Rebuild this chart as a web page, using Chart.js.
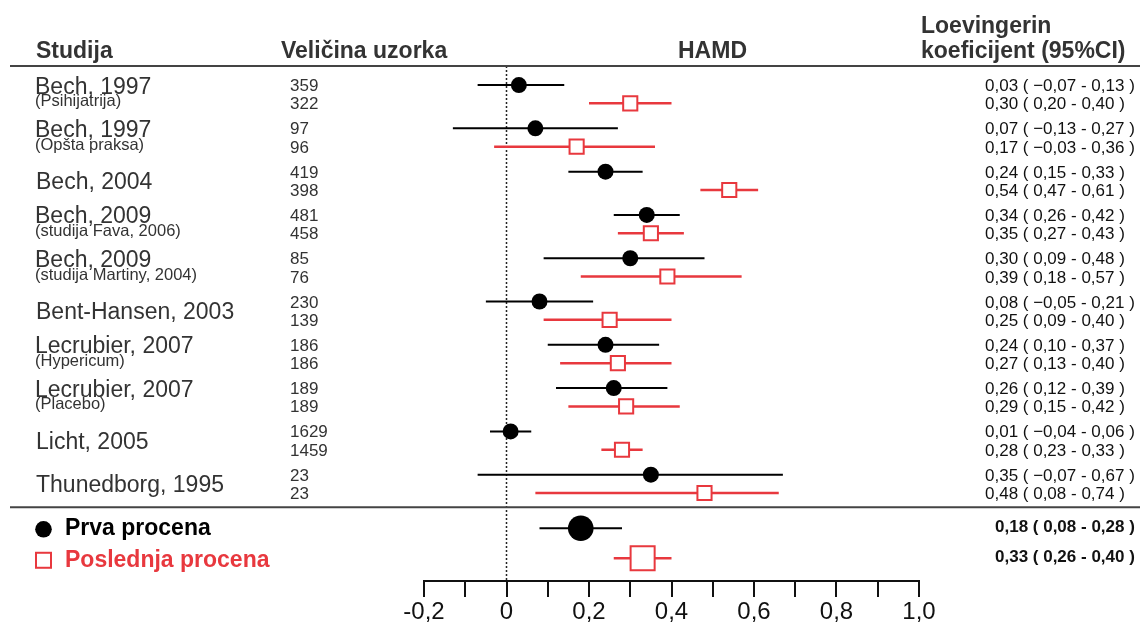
<!DOCTYPE html>
<html>
<head>
<meta charset="utf-8">
<script src="https://cdn.jsdelivr.net/npm/chart.js@4.4.1/dist/chart.umd.min.js"></script>
<style>
html, body { margin: 0; padding: 0; background: #fff; }
#wrap { width: 1140px; height: 625px; }
</style>
</head>
<body>
<div id="wrap"><canvas id="c" width="1140" height="625"></canvas></div>
<script>
// ---------------- data ----------------
const studies = ['Bech, 1997', 'Bech, 1997', 'Bech, 2004', 'Bech, 2009', 'Bech, 2009',
  'Bent-Hansen, 2003', 'Lecrubier, 2007', 'Lecrubier, 2007', 'Licht, 2005', 'Thunedborg, 1995'];
const subtitles = ['(Psihijatrija)', '(Opšta praksa)', '', '(studija Fava, 2006)', '(studija Martiny, 2004)',
  '', '(Hypericum)', '(Placebo)', '', ''];
const nFirst = ['359', '97', '419', '481', '85', '230', '186', '189', '1629', '23'];
const nLast  = ['322', '96', '398', '458', '76', '139', '186', '189', '1459', '23'];

// plotted estimates and CI ends (as drawn)
const firstEst = [0.03, 0.07, 0.24, 0.34, 0.30, 0.08, 0.24, 0.26, 0.01, 0.35];
const firstLo  = [-0.07, -0.13, 0.15, 0.26, 0.09, -0.05, 0.10, 0.12, -0.04, -0.07];
const firstHi  = [0.14, 0.27, 0.33, 0.42, 0.48, 0.21, 0.37, 0.39, 0.06, 0.67];
const lastEst  = [0.30, 0.17, 0.54, 0.35, 0.39, 0.25, 0.27, 0.29, 0.28, 0.48];
const lastLo   = [0.20, -0.03, 0.47, 0.27, 0.18, 0.09, 0.13, 0.15, 0.23, 0.07];
const lastHi   = [0.40, 0.36, 0.61, 0.43, 0.57, 0.40, 0.40, 0.42, 0.33, 0.66];

// printed coefficient labels
const firstLabels = ['0,03 ( \u22120,07 - 0,13 )', '0,07 ( \u22120,13 - 0,27 )', '0,24 ( 0,15 - 0,33 )',
  '0,34 ( 0,26 - 0,42 )', '0,30 ( 0,09 - 0,48 )', '0,08 ( \u22120,05 - 0,21 )', '0,24 ( 0,10 - 0,37 )',
  '0,26 ( 0,12 - 0,39 )', '0,01 ( \u22120,04 - 0,06 )', '0,35 ( \u22120,07 - 0,67 )'];
const lastLabels = ['0,30 ( 0,20 - 0,40 )', '0,17 ( \u22120,03 - 0,36 )', '0,54 ( 0,47 - 0,61 )',
  '0,35 ( 0,27 - 0,43 )', '0,39 ( 0,18 - 0,57 )', '0,25 ( 0,09 - 0,40 )', '0,27 ( 0,13 - 0,40 )',
  '0,29 ( 0,15 - 0,42 )', '0,28 ( 0,23 - 0,33 )', '0,48 ( 0,08 - 0,74 )'];

// pooled estimates
const pooledNames  = ['Prva procena', 'Poslednja procena'];
const pooledEst    = [0.18, 0.33];
const pooledLo     = [0.08, 0.26];
const pooledHi     = [0.28, 0.40];
const pooledLabels = ['0,18 ( 0,08 - 0,28 )', '0,33 ( 0,26 - 0,40 )'];

const xTickMin = -0.2, xTickMax = 1.0, xTickStep = 0.1;

// ---------------- layout (row positions on the hidden y scale) ----------------
const RED = '#e8383e';
const ROW_GAP = 0.423;
const firstY = studies.map((_, i) => i);
const lastY = studies.map((_, i) => i + ROW_GAP);
const POOL_Y = [10.238, 10.93];
const SEP_Y = 9.753;
const Y_MIN = -0.44, Y_MAX = 11.455;
const FONT = "'Liberation Sans', Arial, Helvetica, sans-serif";

function segments(lo, hi, ys) {
  const out = [];
  lo.forEach((l, i) => { out.push({ x: l, y: ys[i] }, { x: hi[i], y: ys[i] }, { x: null, y: null }); });
  return out;
}
function pts(v, ys) { return v.map((x, i) => ({ x: x, y: ys[i] })); }

const textPlugin = {
  id: 'forestText',
  afterDraw(chart) {
    const ctx = chart.ctx;
    const ys = chart.scales.y;
    const top = chart.chartArea.top;
    ctx.save();
    // separator lines
    ctx.strokeStyle = '#444';
    ctx.lineWidth = 2;
    [top, ys.getPixelForValue(SEP_Y)].forEach(py => {
      ctx.beginPath(); ctx.moveTo(10, py); ctx.lineTo(1140, py); ctx.stroke();
    });
    // headers
    ctx.textBaseline = 'alphabetic';
    ctx.textAlign = 'left';
    ctx.fillStyle = '#333';
    ctx.font = `bold 23px ${FONT}`;
    ctx.fillText('Studija', 36, 58);
    ctx.fillText('Veli\u010dina uzorka', 281, 58);
    ctx.fillText('HAMD', 678, 58);
    ctx.fillText('Loevingerin', 921, 33);
    ctx.fillText('koeficijent (95%CI)', 921, 58);

    // study rows
    studies.forEach((name, i) => {
      const yb = ys.getPixelForValue(firstY[i]);
      const yr = ys.getPixelForValue(lastY[i]);
      ctx.fillStyle = '#333';
      if (subtitles[i]) {
        ctx.font = `23px ${FONT}`;
        ctx.fillText(name, 35, yb + 8.5);
        ctx.font = `16.5px ${FONT}`;
        ctx.fillText(subtitles[i], 35, yr + 3);
      } else {
        ctx.font = `23px ${FONT}`;
        ctx.fillText(name, 36, (yb + yr) / 2 + 8);
      }
      ctx.font = `17px ${FONT}`;
      ctx.fillText(nFirst[i], 290, yb + 6);
      ctx.fillText(nLast[i], 290, yr + 6);
      ctx.fillStyle = '#111';
      ctx.fillText(firstLabels[i], 985, yb + 6);
      ctx.fillText(lastLabels[i], 985, yr + 6);
    });

    // pooled legend
    const p1 = ys.getPixelForValue(POOL_Y[0]);
    const p2 = ys.getPixelForValue(POOL_Y[1]);
    ctx.fillStyle = '#000';
    ctx.beginPath(); ctx.arc(43.5, p1 + 1, 8.3, 0, Math.PI * 2); ctx.fill();
    ctx.font = `bold 23px ${FONT}`;
    ctx.fillText(pooledNames[0], 65, p1 + 7);
    ctx.strokeStyle = RED; ctx.lineWidth = 2;
    ctx.fillStyle = '#fff';
    ctx.fillRect(36, p2 - 5.5, 15, 15);
    ctx.strokeRect(36, p2 - 5.5, 15, 15);
    ctx.fillStyle = RED;
    ctx.fillText(pooledNames[1], 65, p2 + 9);
    ctx.fillStyle = '#111';
    ctx.font = `bold 17px ${FONT}`;
    ctx.fillText(pooledLabels[0], 995, p1 + 4);
    ctx.fillText(pooledLabels[1], 995, p2 + 4);
    ctx.restore();
  }
};

new Chart(document.getElementById('c'), {
  type: 'scatter',
  data: {
    datasets: [
      { label: 'first', data: pts(firstEst, firstY), pointStyle: 'circle', pointRadius: 8,
        backgroundColor: '#000', borderColor: '#000', borderWidth: 0, order: 0 },
      { label: 'last', data: pts(lastEst, lastY), pointStyle: 'rect', pointRadius: 10,
        backgroundColor: '#fff', borderColor: RED, borderWidth: 2, order: 0 },
      { label: 'pooledFirst', data: [{ x: pooledEst[0], y: POOL_Y[0] }], pointStyle: 'circle', pointRadius: 12.8,
        backgroundColor: '#000', borderColor: '#000', borderWidth: 0, order: 0 },
      { label: 'pooledLast', data: [{ x: pooledEst[1], y: POOL_Y[1] }], pointStyle: 'rect', pointRadius: 17,
        backgroundColor: '#fff', borderColor: RED, borderWidth: 2, order: 0 },
      { label: 'firstCI', data: segments(firstLo.concat([pooledLo[0]]), firstHi.concat([pooledHi[0]]), firstY.concat([POOL_Y[0]])),
        showLine: true, spanGaps: false, pointRadius: 0, borderColor: '#000', borderWidth: 2, order: 1 },
      { label: 'lastCI', data: segments(lastLo.concat([pooledLo[1]]), lastHi.concat([pooledHi[1]]), lastY.concat([POOL_Y[1]])),
        showLine: true, spanGaps: false, pointRadius: 0, borderColor: RED, borderWidth: 2.5, order: 1 },
      { label: 'zero', data: [{ x: 0, y: Y_MIN }, { x: 0, y: Y_MAX }], showLine: true, pointRadius: 0,
        borderColor: '#222', borderWidth: 1.5, borderDash: [2, 2], order: 2 }
    ]
  },
  options: {
    responsive: false,
    animation: false,
    events: [],
    layout: { padding: { left: 424, right: 221, top: 66, bottom: 0 } },
    plugins: { legend: { display: false }, tooltip: { enabled: false } },
    scales: {
      x: {
        type: 'linear', position: 'bottom', min: xTickMin, max: xTickMax,
        afterFit(scale) { scale.height = 44; },
        border: { display: true, color: '#111', width: 2 },
        grid: { display: true, drawOnChartArea: false, drawTicks: true, tickLength: 16, color: '#111', lineWidth: 2 },
        ticks: {
          stepSize: xTickStep, autoSkip: false, maxRotation: 0, padding: 1, color: '#111',
          font: { family: FONT, size: 24 },
          callback(value) {
            const k = Math.round(value * 10);
            if (k % 2 !== 0) return '';
            if (k === 0) return '0';
            return (k / 10).toFixed(1).replace('.', ',');
          }
        }
      },
      y: { type: 'linear', display: false, reverse: true, min: Y_MIN, max: Y_MAX }
    }
  },
  plugins: [textPlugin]
});
</script>
</body>
</html>
